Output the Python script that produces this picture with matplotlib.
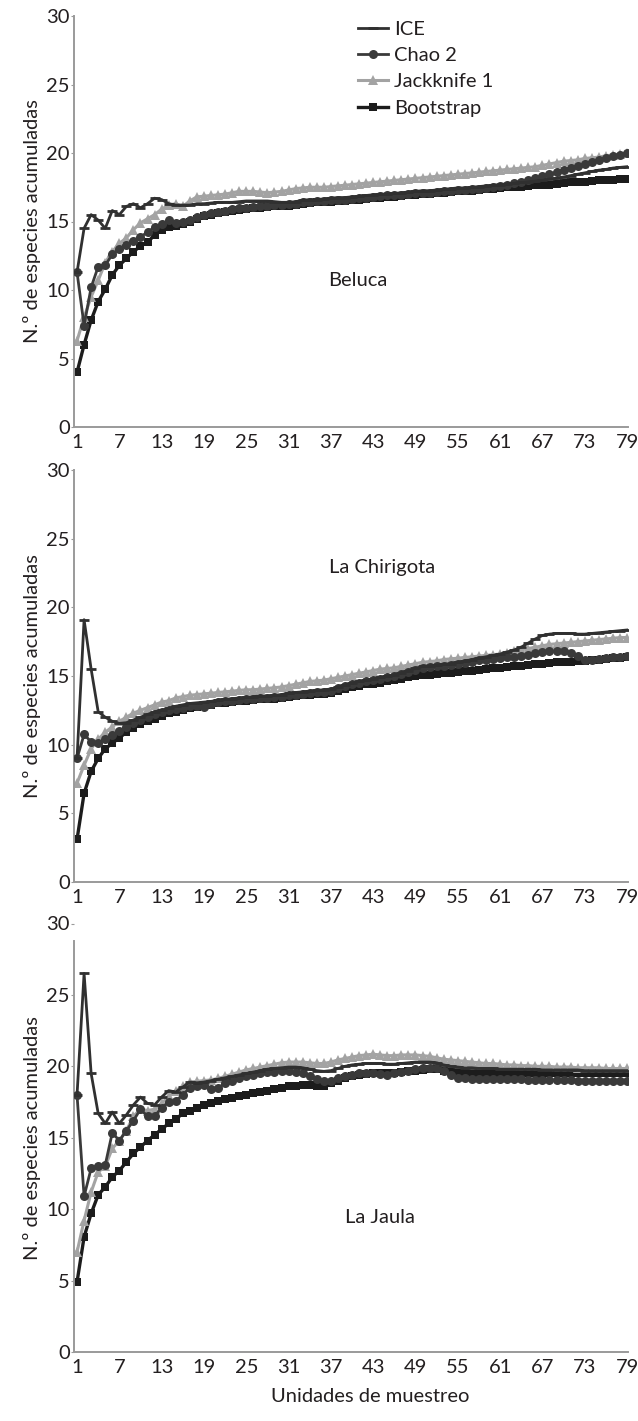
import matplotlib
matplotlib.use("Agg")
import matplotlib.pyplot as plt
import numpy as np

plt.rcParams['font.family'] = ['Lato', 'DejaVu Sans']

x = list(range(1, 80))
xticks = [1, 7, 13, 19, 25, 31, 37, 43, 49, 55, 61, 67, 73, 79]
series_names = ["ICE", "Chao 2", "Jackknife 1", "Bootstrap"]
sites = ["Beluca", "La Chirigota", "La Jaula"]

# ---------------- Beluca ----------------
beluca_ice = [11.3, 14.5, 15.5, 15.1, 14.5, 15.8, 15.5, 16.1, 16.3, 16.0, 16.3, 16.7, 16.6, 16.3,
              16.2, 16.2, 16.2, 16.3, 16.3, 16.35, 16.4, 16.4, 16.4, 16.45, 16.5,
              16.5, 16.5, 16.5, 16.45, 16.4, 16.4, 16.45, 16.55, 16.6, 16.6, 16.65, 16.7,
              16.75, 16.75, 16.8, 16.85, 16.9, 16.95, 17.0, 17.0, 17.05, 17.1, 17.15, 17.2,
              17.25, 17.25, 17.3, 17.35, 17.4, 17.45, 17.45, 17.5, 17.55, 17.6, 17.65, 17.7,
              17.75, 17.8, 17.85, 17.9, 17.95, 18.0, 18.1, 18.15, 18.25, 18.35, 18.45, 18.55,
              18.65, 18.75, 18.8, 18.9, 18.95, 19.0]
beluca_chao2 = [11.3, 7.4, 10.2, 11.7, 11.8, 12.6, 13.0, 13.3, 13.6, 13.9, 14.2, 14.6, 14.8, 15.1,
                14.9, 15.0, 15.1, 15.3, 15.5, 15.6, 15.7, 15.8, 15.9, 15.95, 16.0,
                16.05, 16.1, 16.15, 16.2, 16.2, 16.25, 16.3, 16.4, 16.45, 16.5, 16.5, 16.55,
                16.6, 16.6, 16.65, 16.7, 16.75, 16.8, 16.85, 16.9, 16.9, 16.95, 17.0, 17.05,
                17.1, 17.1, 17.15, 17.2, 17.25, 17.3, 17.3, 17.35, 17.4, 17.45, 17.5, 17.6,
                17.7, 17.8, 17.9, 18.0, 18.15, 18.3, 18.45, 18.6, 18.75, 18.9, 19.05, 19.2,
                19.35, 19.5, 19.6, 19.75, 19.85, 20.0]
beluca_jack1 = [6.3, 8.0, 9.5, 10.7, 12.0, 12.8, 13.4, 13.8, 14.4, 14.9, 15.2, 15.5, 15.9, 16.2,
                16.3, 16.1, 16.5, 16.8, 16.85, 16.9, 16.95, 17.0, 17.1, 17.2, 17.2,
                17.2, 17.15, 17.1, 17.15, 17.2, 17.3, 17.4, 17.45, 17.5, 17.5, 17.5, 17.55,
                17.6, 17.65, 17.7, 17.75, 17.8, 17.85, 17.9, 17.95, 18.0, 18.05, 18.1, 18.15,
                18.2, 18.25, 18.3, 18.35, 18.4, 18.45, 18.5, 18.55, 18.6, 18.65, 18.7, 18.75,
                18.8, 18.85, 18.9, 18.95, 19.0, 19.1, 19.2, 19.3, 19.4, 19.45, 19.5, 19.6,
                19.65, 19.7, 19.8, 19.85, 19.9, 20.0]
beluca_boot = [4.0, 6.0, 7.8, 9.15, 10.05, 11.1, 11.8, 12.3, 12.8, 13.2, 13.5, 14.0, 14.4, 14.6,
               14.7, 14.8, 15.0, 15.2, 15.4, 15.5, 15.6, 15.7, 15.8, 15.85, 15.9, 15.95, 16.0,
               16.05, 16.1, 16.1, 16.15, 16.2, 16.3, 16.35, 16.4, 16.4, 16.45,
               16.5, 16.5, 16.55, 16.6, 16.65, 16.7, 16.75, 16.8, 16.8,
               16.85, 16.9, 16.95, 17.0, 17.0, 17.05, 17.1, 17.15, 17.2,
               17.2, 17.25, 17.3, 17.35, 17.4, 17.45, 17.5, 17.5, 17.55,
               17.6, 17.65, 17.7, 17.7, 17.75, 17.8, 17.85, 17.9, 17.9,
               17.95, 18.0, 18.0, 18.05, 18.1, 18.1]

# ---------------- La Chirigota ----------------
chirigota_ice = [9.0, 19.1, 15.5, 12.4, 12.0, 11.7, 11.55, 11.6, 11.8, 12.0,
                 12.2, 12.4, 12.5, 12.65, 12.8, 12.9, 13.0, 13.05, 13.1, 13.15,
                 13.25, 13.3, 13.35, 13.4, 13.45, 13.5, 13.55, 13.55, 13.6, 13.65,
                 13.75, 13.8, 13.85, 13.9, 13.95, 14.0, 14.05, 14.2, 14.35, 14.5,
                 14.6, 14.7, 14.8, 14.9, 15.0, 15.1, 15.25, 15.4, 15.55, 15.7,
                 15.75, 15.8, 15.85, 15.9, 16.0, 16.1, 16.2, 16.3, 16.4, 16.5,
                 16.6, 16.75, 16.9, 17.1, 17.4, 17.7, 17.95, 18.05, 18.1, 18.1,
                 18.1, 18.05, 18.05, 18.1, 18.15, 18.2, 18.25, 18.3, 18.35]
chirigota_chao2 = [9.0, 10.75, 10.2, 10.1, 10.4, 10.7, 11.0, 11.3, 11.55, 11.8,
                   12.0, 12.2, 12.35, 12.5, 12.6, 12.7, 12.8, 12.85, 12.75, 12.95,
                   13.1, 13.15, 13.2, 13.25, 13.3, 13.35, 13.4, 13.4, 13.45, 13.5,
                   13.6, 13.65, 13.7, 13.75, 13.8, 13.8, 13.9, 14.1, 14.25, 14.4,
                   14.5, 14.6, 14.7, 14.8, 14.9, 15.0, 15.15, 15.3, 15.45, 15.6,
                   15.65, 15.7, 15.75, 15.8, 15.85, 15.95, 16.05, 16.15, 16.2, 16.25,
                   16.3, 16.35, 16.4, 16.45, 16.55, 16.65, 16.75, 16.8, 16.85, 16.85,
                   16.7, 16.45, 16.2, 16.2, 16.25, 16.3, 16.35, 16.4, 16.45]
chirigota_jack1 = [7.2, 8.5, 9.7, 10.4, 10.9, 11.3, 11.7, 12.0, 12.3, 12.5,
                   12.7, 12.9, 13.1, 13.2, 13.4, 13.5, 13.6, 13.65, 13.7, 13.75,
                   13.8, 13.85, 13.9, 13.95, 14.0, 14.0, 14.05, 14.1, 14.15, 14.2,
                   14.3, 14.4, 14.5, 14.6, 14.65, 14.7, 14.8, 14.9, 15.0, 15.1,
                   15.2, 15.3, 15.4, 15.5, 15.55, 15.6, 15.7, 15.8, 15.9, 16.0,
                   16.05, 16.1, 16.2, 16.25, 16.3, 16.35, 16.4, 16.45, 16.5, 16.55,
                   16.6, 16.7, 16.8, 16.9, 17.0, 17.1, 17.2, 17.3, 17.35, 17.4,
                   17.45, 17.5, 17.55, 17.6, 17.65, 17.7, 17.75, 17.8, 17.8]
chirigota_boot = [3.1, 6.45, 8.05, 9.0, 9.7, 10.1, 10.5, 10.9, 11.2, 11.5,
                  11.7, 11.9, 12.1, 12.3, 12.4, 12.55, 12.65, 12.75, 12.85, 12.9,
                  13.0, 13.05, 13.1, 13.15, 13.2, 13.25, 13.3, 13.3, 13.35, 13.4,
                  13.5, 13.55, 13.6, 13.65, 13.7, 13.7, 13.75, 13.9, 14.05, 14.2,
                  14.3, 14.4, 14.45, 14.5, 14.6, 14.7, 14.8, 14.9, 15.0, 15.05,
                  15.1, 15.15, 15.2, 15.25, 15.3, 15.35, 15.4, 15.45, 15.5, 15.55,
                  15.6, 15.65, 15.7, 15.75, 15.8, 15.85, 15.9, 15.95, 16.0, 16.0,
                  16.05, 16.1, 16.1, 16.15, 16.2, 16.25, 16.3, 16.3, 16.35]

# ---------------- La Jaula ----------------
jaula_ice = [18.0, 26.5, 19.5, 16.7, 16.0, 16.8, 16.0, 16.6, 17.3, 17.85,
             17.4, 17.3, 17.85, 18.3, 18.2, 18.55, 18.9, 18.85, 18.9, 19.0,
             19.1, 19.2, 19.3, 19.4, 19.5, 19.6, 19.7, 19.8, 19.85, 19.9,
             19.95, 19.95, 19.9, 19.8, 19.7, 19.65, 19.7, 19.85, 20.0, 20.1,
             20.15, 20.2, 20.2, 20.2, 20.15, 20.15, 20.2, 20.25, 20.3, 20.3,
             20.3, 20.25, 20.1, 20.0, 19.95, 19.9, 19.9, 19.85, 19.85, 19.85,
             19.8, 19.8, 19.8, 19.8, 19.8, 19.8, 19.75, 19.75, 19.75, 19.75,
             19.75, 19.75, 19.7, 19.7, 19.7, 19.7, 19.7, 19.7, 19.7]
jaula_chao2 = [18.0, 10.9, 12.85, 13.0, 13.1, 15.35, 14.8, 15.5, 16.2, 17.0,
               16.5, 16.5, 17.1, 17.5, 17.6, 18.0, 18.5, 18.6, 18.7, 18.4,
               18.5, 18.8, 19.0, 19.2, 19.3, 19.4, 19.5, 19.6, 19.6, 19.7,
               19.7, 19.6, 19.5, 19.3, 19.1, 19.0, 19.0, 19.15, 19.3, 19.4,
               19.5, 19.5, 19.5, 19.45, 19.4, 19.5, 19.6, 19.7, 19.8, 19.85,
               19.85, 19.9, 19.7, 19.4, 19.2, 19.15, 19.1, 19.1, 19.1, 19.1,
               19.1, 19.1, 19.1, 19.1, 19.05, 19.05, 19.05, 19.05, 19.05, 19.05,
               19.05, 19.0, 19.0, 19.0, 19.0, 19.0, 19.0, 19.0, 19.0]
jaula_jack1 = [7.0, 9.2, 11.2, 12.6, 13.0, 14.25, 14.8, 15.5, 16.5, 17.0,
               16.9, 17.0, 17.4, 17.9, 18.3, 18.6, 18.9, 18.95, 19.0, 19.05,
               19.15, 19.3, 19.45, 19.6, 19.75, 19.85, 19.95, 20.05, 20.15, 20.25,
               20.3, 20.3, 20.3, 20.25, 20.2, 20.2, 20.3, 20.45, 20.55, 20.65,
               20.75, 20.8, 20.85, 20.8, 20.75, 20.75, 20.8, 20.8, 20.8, 20.75,
               20.7, 20.6, 20.5, 20.45, 20.4, 20.35, 20.3, 20.25, 20.2, 20.2,
               20.15, 20.1, 20.1, 20.05, 20.05, 20.0, 20.0, 20.0, 19.95, 19.95,
               19.95, 19.9, 19.9, 19.9, 19.9, 19.85, 19.85, 19.85, 19.85]
jaula_boot = [4.9, 8.05, 9.7, 11.0, 11.55, 12.25, 12.7, 13.3, 13.9, 14.35,
              14.8, 15.2, 15.6, 16.0, 16.3, 16.7, 16.9, 17.05, 17.3, 17.45,
              17.6, 17.7, 17.8, 17.9, 18.0, 18.1, 18.2, 18.3, 18.4, 18.5,
              18.6, 18.65, 18.7, 18.7, 18.65, 18.6, 18.8, 19.0, 19.15, 19.3,
              19.4, 19.45, 19.5, 19.5, 19.5, 19.55, 19.6, 19.65, 19.7, 19.75,
              19.8, 19.8, 19.7, 19.6, 19.5, 19.5, 19.45, 19.45, 19.5, 19.5,
              19.5, 19.45, 19.45, 19.5, 19.5, 19.5, 19.45, 19.5, 19.5, 19.5,
              19.5, 19.5, 19.5, 19.5, 19.5, 19.5, 19.5, 19.55, 19.55]

data = [
    (beluca_ice, beluca_chao2, beluca_jack1, beluca_boot),
    (chirigota_ice, chirigota_chao2, chirigota_jack1, chirigota_boot),
    (jaula_ice, jaula_chao2, jaula_jack1, jaula_boot),
]

styles = {
    "ICE": dict(color="#303030", marker="_", ms=7, mew=2.0, lw=2.0, zorder=4),
    "Chao 2": dict(color="#3a3a3a", marker="o", ms=6.5, mew=0, lw=2.0, zorder=3),
    "Jackknife 1": dict(color="#a3a3a3", marker="^", ms=7.5, mew=0, lw=2.2, zorder=2),
    "Bootstrap": dict(color="#1c1c1c", marker="s", ms=6.3, mew=0, lw=2.4, zorder=1),
}

fig = plt.figure(figsize=(6.38, 14.21), dpi=100)
left, width = 74 / 638, (628 - 74) / 638
positions = [
    (left, 1 - 427 / 1421, width, (427 - 16) / 1421),
    (left, 1 - 882 / 1421, width, (882 - 470) / 1421),
    (left, 1 - 1352 / 1421, width, (1352 - 923.5) / 1421),
]
label_pos = [(36.6, 10.7), (36.7, 22.9), (39.0, 9.4)]
ylabel = "N.º de especies acumuladas"
tick_color = "#231f20"
spine_color = "#9a9a9a"
fs = 14.5

axes = []
for i, (pos, site, series) in enumerate(zip(positions, sites, data)):
    ax = fig.add_axes(pos)
    axes.append(ax)
    for name, vals in zip(series_names, series):
        st = styles[name]
        ax.plot(x, vals, color=st["color"], marker=st["marker"], markersize=st["ms"],
                markeredgewidth=st["mew"], markeredgecolor=st["color"], linewidth=st["lw"],
                zorder=st["zorder"], label=name)
    ax.set_xlim(0.57, 79.14)
    ax.set_ylim(0, 30)
    ax.set_yticks([0, 5, 10, 15, 20, 25, 30])
    ax.set_xticks(xticks)
    for s in ["top", "right"]:
        ax.spines[s].set_visible(False)
    for s in ["left", "bottom"]:
        ax.spines[s].set_color(spine_color)
        ax.spines[s].set_linewidth(1.4)
    if i == 2:
        ax.spines["left"].set_bounds(0, 28.8)
    ax.tick_params(axis="y", length=2, width=0.8, color=spine_color, labelsize=fs,
                   labelcolor=tick_color, pad=1)
    ax.tick_params(axis="x", length=0, labelsize=fs, labelcolor=tick_color, pad=5)
    ax.set_ylabel(ylabel, fontsize=fs, color=tick_color, labelpad=4)
    ax.text(label_pos[i][0], label_pos[i][1], site, fontsize=fs, color=tick_color,
            ha="left", va="center")

leg = axes[0].legend(loc="upper left", bbox_to_anchor=(358 / 638, 1 - 21 / 1421),
                     bbox_transform=fig.transFigure, frameon=False, fontsize=fs,
                     handlelength=1.5, handletextpad=0.3, labelspacing=0.45,
                     borderpad=0, borderaxespad=0)
for t in leg.get_texts():
    t.set_color(tick_color)

fig.text(370 / 638, 1 - 1397 / 1421, "Unidades de muestreo", fontsize=fs,
         color=tick_color, ha="center", va="center")

fig.savefig("out.png", dpi=100)
